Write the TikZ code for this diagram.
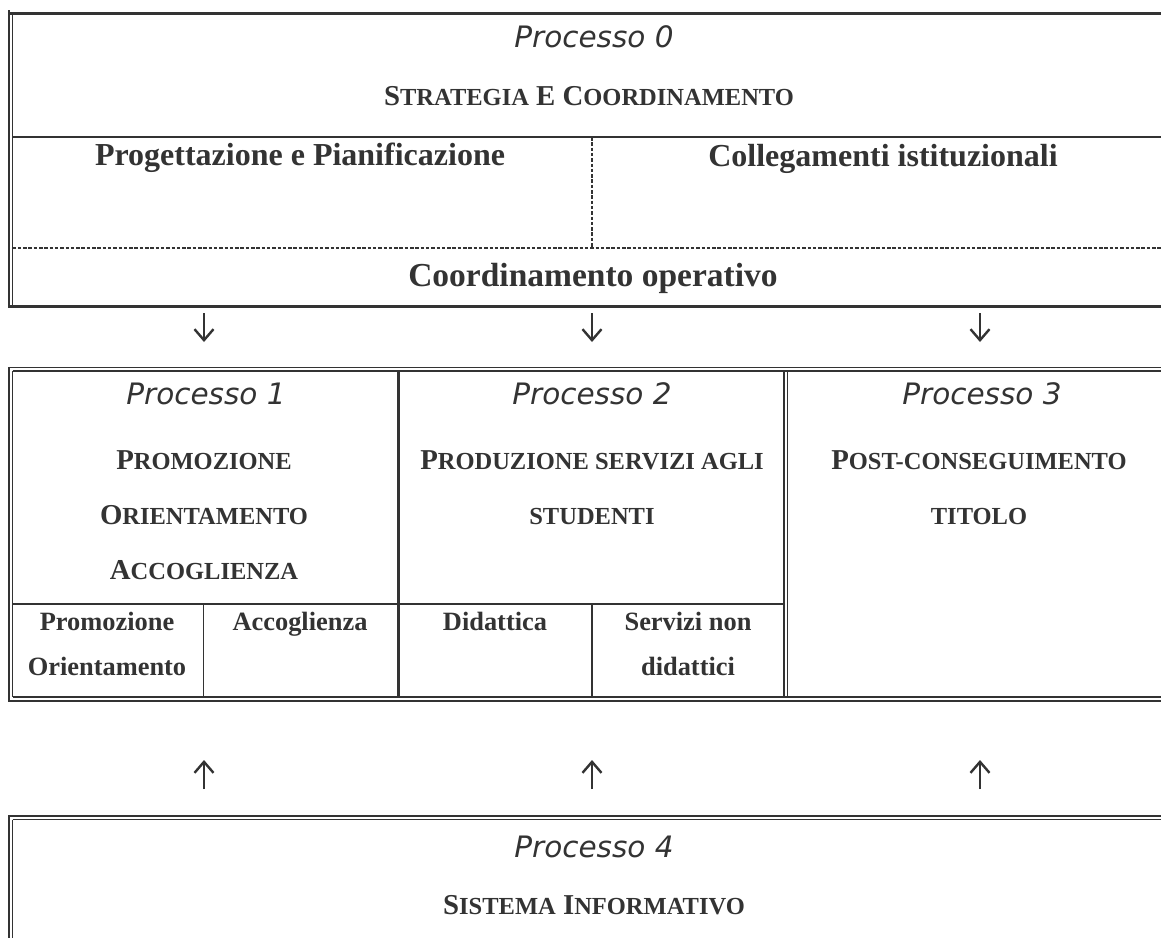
\documentclass[tikz,border=0pt]{standalone}
\usepackage{fontspec}
\setmainfont{Liberation Serif}
\newfontfamily\procfont{DejaVu Sans}
\usetikzlibrary{arrows.meta, positioning}
\definecolor{LineGray}{RGB}{51,51,51}
\newcommand\smcap[1]{{\fontsize{24.5}{28}\selectfont #1}}

\begin{document}
\begin{tikzpicture}[x=1pt, y=-1pt,
  proc/.style={font=\procfont\itshape\fontsize{29.5}{34}\selectfont, text=LineGray, anchor=base},
  title/.style={font=\bfseries\fontsize{28.8}{55}\selectfont, text=LineGray, align=center, anchor=base},
  bigtitle/.style={title, font=\bfseries\fontsize{32}{36}\selectfont},
  cell/.style={font=\bfseries\fontsize{26.4}{45}\selectfont, text=LineGray, align=center, anchor=base},
  rule/.style={draw=LineGray, line width=1.5pt},
  heavy/.style={draw=LineGray, line width=3.4pt},
  cutline/.style={draw=LineGray, line width=1.3pt, dash pattern=on 3.5pt off 1.8pt},
  flow/.style={draw=LineGray, line width=2.4pt, -{Straight Barb[length=11pt, width=19pt, line width=2.4pt]}}
]
\useasboundingbox (0,0) rectangle (1161,938);
\fill[white] (0,0) rectangle (1161,938);

% Processo 0
\draw[rule] (9,10) -- (9,308);
\draw[rule] (12.5,15) -- (12.5,305);
\draw[heavy] (8.3,13.3) -- (1161,13.3);
\draw[heavy] (8.3,306.5) -- (1161,306.5);
\draw[rule] (12.5,137) -- (1161,137);
\draw[cutline] (12.5,248) -- (1161,248);
\draw[cutline] (592,137) -- (592,248);

\node[proc] (p0) at (594,47) {Processo 0};
\node[title] (strat) at (589,105) {S\smcap{TRATEGIA} E C\smcap{OORDINAMENTO}};
\node[bigtitle] (prog) at (300,165) {Progettazione e Pianificazione};
\node[bigtitle] (coll) at (883,166) {Collegamenti istituzionali};
\node[bigtitle, font=\bfseries\fontsize{33.5}{38}\selectfont] (coord) at (593,286) {Coordinamento operativo};

% frecce
\foreach \x/\n in {204/a, 592/b, 980/c}{
  \coordinate (down\n) at (\x,313);
  \coordinate (downend\n) at (\x,342);
  \draw[flow] (down\n) -- (downend\n);
  \coordinate (up\n) at (\x,789);
  \coordinate (upend\n) at (\x,760);
  \draw[flow] (up\n) -- (upend\n);
}

% Processi 1-3
\draw[rule] (8.3,367.5) -- (1161,367.5);
\draw[rule] (12.5,371) -- (1161,371);
\draw[rule] (9,366.8) -- (9,701.3);
\draw[rule] (12.5,371) -- (12.5,697);
\draw[rule] (8.3,701) -- (1161,701);
\draw[rule] (12.5,697) -- (1161,697);
\draw[draw=LineGray, line width=3pt] (398.5,371) -- (398.5,697);
\draw[rule] (784,371) -- (784,697);
\draw[rule] (787.5,371) -- (787.5,697);
\draw[rule] (12.5,604) -- (784,604);
\draw[rule] (203.5,604) -- (203.5,697);
\draw[rule] (592,604) -- (592,697);

\node[proc] (p1) at (206,404) {Processo 1};
\node[title] (prom) at (204,579) {P\smcap{ROMOZIONE}\\O\smcap{RIENTAMENTO}\\A\smcap{CCOGLIENZA}};
\node[proc] (p2) at (592,404) {Processo 2};
\node[title] (prod) at (592,524) {P\smcap{RODUZIONE SERVIZI AGLI}\\\smcap{STUDENTI}};
\node[proc] (p3) at (982,404) {Processo 3};
\node[title] (post) at (979,524) {P\smcap{OST-CONSEGUIMENTO}\\\smcap{TITOLO}};

\node[cell] (orient) at (107,675) {Promozione\\Orientamento};
\node[cell] (accog) at (300,630) {Accoglienza};
\node[cell] (did) at (495,630) {Didattica};
\node[cell] (serv) at (688,675) {Servizi non\\didattici};

% Processo 4
\draw[rule] (8.3,816) -- (1161,816);
\draw[rule] (12.5,819.5) -- (1161,819.5);
\draw[rule] (9,815.3) -- (9,938);
\draw[rule] (12.5,819.5) -- (12.5,938);

\node[proc] (p4) at (594,857) {Processo 4};
\node[title] (sist) at (594,914) {S\smcap{ISTEMA} I\smcap{NFORMATIVO}};
\end{tikzpicture}
\end{document}
